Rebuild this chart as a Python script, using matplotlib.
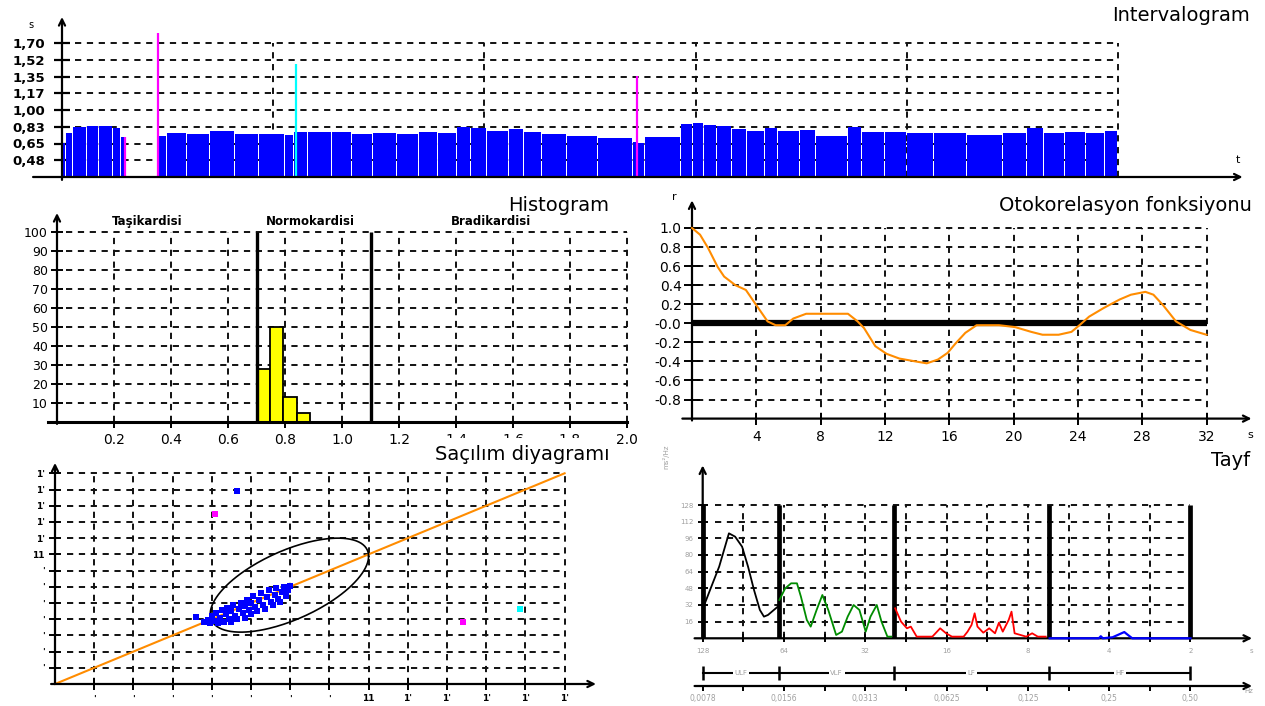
import numpy as np
import matplotlib.pyplot as plt
from matplotlib.patches import Rectangle
from matplotlib.ticker import NullFormatter

W, H = 1265, 706

# ---------------- data ----------------
# intervalogram: segment start (min) and RR interval (s)
seg_start = [0.000, 0.019, 0.052, 0.118, 0.175, 0.241, 0.279, 0.298,
             0.455, 0.497, 0.592, 0.701, 0.819, 0.933, 1.056, 1.098, 1.165, 1.278,
             1.373, 1.473, 1.586, 1.690, 1.780, 1.870, 1.937, 2.012, 2.116, 2.188,
             2.273, 2.391, 2.538, 2.704, 2.723, 2.760, 2.931, 2.988, 3.040, 3.101,
             3.172, 3.243, 3.329, 3.390, 3.494, 3.570, 3.722, 3.788, 3.897, 4.001,
             4.129, 4.285, 4.456, 4.569, 4.650, 4.749, 4.848, 4.938]
seg_rr = [0.66, 0.76, 0.82, 0.83, 0.83, 0.81, 0.72, np.nan,
          0.73, 0.76, 0.75, 0.78, 0.75, 0.75, 0.74, 0.77, 0.77, 0.77,
          0.75, 0.76, 0.75, 0.77, 0.76, 0.82, 0.81, 0.78, 0.80, 0.77,
          0.75, 0.73, 0.71, 0.67, 0.66, 0.72, 0.85, 0.86, 0.84, 0.83,
          0.80, 0.78, 0.81, 0.78, 0.79, 0.73, 0.82, 0.77, 0.77, 0.76,
          0.76, 0.74, 0.76, 0.81, 0.76, 0.77, 0.76, 0.78]
mark_t = [0.296, 0.455, 1.108, 2.723]
mark_rr = [0.72, 1.80, 1.48, 1.35]
mark_colors = ['#ff00ff', '#ff00ff', '#00ffff', '#ff00ff']
rr_ticks = [0.478, 0.652, 0.826, 1.0, 1.174, 1.348, 1.522, 1.696]
rr_labels = ['0,48', '0,65', '0,83', '1,00', '1,17', '1,35', '1,52', '1,70']
rr_base = 0.304

# histogram
hist_left = [0.70, 0.747, 0.794, 0.841]
hist_pct = [28, 50, 13, 5]
zone_bounds = [0.7, 1.1]
zone_names = ['Taşikardisi', 'Normokardisi', 'Bradikardisi']
zone_x = [0.316, 0.888, 1.523]

# autocorrelation
lag = [0, 0.5, 1.0, 1.6, 2.0, 2.7, 3.35, 4.0, 4.7, 5.2, 5.8, 6.3, 7.1, 8.1, 9.7,
       10.3, 10.7, 11.4, 12.1, 12.9, 13.9, 14.6, 15.3, 15.9, 16.4, 17.0, 17.7,
       19.1, 20.1, 21.1, 21.8, 22.8, 23.6, 24.1, 24.7, 25.6, 26.6, 27.3, 28.2,
       28.7, 29.3, 30.1, 31.0, 32.0]
acf = [1.0, 0.93, 0.79, 0.59, 0.49, 0.40, 0.35, 0.19, 0.02, -0.02, -0.02, 0.05,
       0.10, 0.10, 0.10, 0.02, -0.05, -0.24, -0.32, -0.37, -0.40, -0.42, -0.38,
       -0.31, -0.21, -0.10, -0.02, -0.02, -0.04, -0.09, -0.12, -0.12, -0.09,
       -0.02, 0.07, 0.16, 0.25, 0.30, 0.33, 0.30, 0.19, 0.02, -0.07, -0.12]
ac_ticks = [-0.8, -0.6, -0.4, -0.2, 0.0, 0.2, 0.4, 0.6, 0.8, 1.0]
ac_labels = ['-0.8', '-0.6', '-0.4', '-0.2', '-0.0', '0.2', '0.4', '0.6', '0.8', '1.0']

# scatter (grid units)
sc_x = [3.6, 3.8, 3.9, 3.95, 4.0, 4.05, 4.1, 4.15, 4.2, 4.25, 4.3, 4.35, 4.4, 4.45,
        4.5, 4.5, 4.55, 4.6, 4.65, 4.7, 4.75, 4.8, 4.85, 4.85, 4.9, 4.95, 5.0, 5.0,
        5.05, 5.1, 5.15, 5.2, 5.25, 5.3, 5.35, 5.4, 5.45, 5.5, 5.55, 5.6, 5.65, 5.7,
        5.75, 5.8, 5.85, 5.9, 5.95, 6.0]
sc_y = [4.15, 3.85, 3.95, 3.75, 4.2, 3.9, 4.4, 3.75, 4.05, 4.55, 3.85, 4.3, 4.7, 4.0,
        3.85, 4.5, 4.85, 4.2, 4.0, 4.65, 5.0, 4.35, 4.1, 4.8, 5.2, 4.55, 4.3, 5.0,
        5.4, 4.75, 4.5, 5.2, 5.6, 4.9, 4.65, 5.35, 5.8, 5.05, 4.85, 5.5, 5.9, 5.25,
        5.05, 5.65, 6.0, 5.45, 5.8, 6.05]
out_x = [4.64, 4.09, 10.4, 11.87]
out_y = [11.93, 10.49, 3.85, 4.61]
out_colors = ['#0000ff', '#ff00ff', '#ff00ff', '#00ffff']
sc_labels = ["'", "'", "'", "'", "'", "'", "'", "11", "1'", "1'", "1'", "1'", "1'"]
ell_center = (5.98, 6.1)
ell_extent = (2.02, 2.9)
ell_phase = 0.91

# spectrum (Hz, ms^2/Hz)
ulf_f = [0.0078, 0.00796, 0.00841, 0.00899, 0.00977, 0.0103, 0.01093, 0.0115,
         0.0121, 0.01272, 0.01317, 0.01363, 0.01433, 0.01482]
ulf_p = [32, 33.6, 49.6, 68.8, 100.8, 97.6, 88, 68.8, 46.4, 27.2, 20.8, 22.4, 27.2, 30.4]
vlf_f = [0.01502, 0.01579, 0.0166, 0.01745, 0.01805, 0.01898, 0.01962, 0.02063,
         0.02167, 0.02279, 0.02437, 0.02561, 0.02689, 0.02828, 0.02972, 0.03136,
         0.03266, 0.03446, 0.03588, 0.03773, 0.03898]
vlf_p = [36.8, 48, 52.8, 52.8, 40, 17.6, 11.2, 27.2, 41.6, 27.2, 3.2, 6.4, 20.8,
         32, 27.2, 6.4, 20.8, 32, 16, 1.6, 1.6]
lf_f = [0.04032, 0.04238, 0.04456, 0.04607, 0.04843, 0.05177, 0.05535, 0.05916,
        0.06223, 0.0654, 0.07228, 0.07473, 0.07731, 0.07938, 0.08132, 0.08543,
        0.08985, 0.09444, 0.09763, 0.1009, 0.1061, 0.1087, 0.1116, 0.1173, 0.1232,
        0.1296, 0.136, 0.1456]
lf_p = [28.8, 16, 9.6, 11.2, 1.6, 1.6, 1.6, 9.6, 4.8, 1.6, 1.6, 6.4, 12.8, 24,
        11.2, 5.4, 9.6, 4.8, 15, 6.4, 17.6, 25.6, 4.8, 3.2, 1.6, 4.8, 1.6, 1.6]
hf_f = [0.1505, 0.2288, 0.2327, 0.2367, 0.2573, 0.2705, 0.2843, 0.294, 0.3044, 0.4999]
hf_p = [0, 0, 2, 0, 1, 3.5, 6, 3, 0, 0]
band_edges = [1 / 128, 0.015, 0.04, 0.15, 0.5]
band_names = ['ULF', 'VLF', 'LF', 'HF']
period_labels = ['128', '64', '32', '16', '8', '4', '2']
hz_labels = ['0,0078', '0,0156', '0,0313', '0,0625', '0,125', '0,25', '0,50']

# ---------------- drawing ----------------
plt.rcParams['font.family'] = 'DejaVu Sans'
fig = plt.figure(figsize=(W / 100, H / 100), dpi=100)

DASH = (0, (3.2, 2.9))
GRID = dict(colors='#111111', linewidths=1.4, linestyles=DASH, zorder=1, clip_on=False)
GRAY = '#a0a0a0'


def panel(x0, x1, y0, y1):
    ax = fig.add_axes([x0 / W, 1 - y1 / H, (x1 - x0) / W, (y1 - y0) / H])
    for s in ax.spines.values():
        s.set_visible(False)
    ax.patch.set_visible(False)
    return ax


def arrow(ax, start, end, lw=1.6):
    ax.annotate('', xy=end, xytext=start, annotation_clip=False,
                arrowprops=dict(arrowstyle='->', lw=lw, color='black',
                                shrinkA=0, shrinkB=0, mutation_scale=11))


def ftext(x, y, s, **kw):
    return fig.text(x / W, 1 - y / H, s, **kw)


# Intervalogram
ax1 = panel(62, 1118, 43, 177)
ax1.set_xlim(0, 5)
ax1.set_ylim(rr_base, 1.696)
ax1.hlines(rr_ticks, 0.06, 5, **GRID)
ax1.vlines([1, 2, 3, 4, 5], rr_base, 1.696, **GRID)
start = np.array(seg_start)
end = np.append(start[1:], 5.0)
rr = np.array(seg_rr)
ok = ~np.isnan(rr)
ax1.bar(start[ok], rr[ok] - rr_base, width=(end - start)[ok] - 0.0066,
        bottom=rr_base, align='edge', color='#0000ff', lw=0, zorder=2)
ax1.vlines(mark_t, rr_base, mark_rr, colors=mark_colors, lw=1.6, zorder=3, clip_on=False)
arrow(ax1, (-0.137, rr_base), (5.59, rr_base))
arrow(ax1, (0, rr_base - 0.03), (0, 1.966))
ax1.set_xticks([])
ax1.set_yticks(rr_ticks, rr_labels)
ax1.tick_params(axis='y', direction='inout', length=12, width=1.6, pad=6, labelsize=9.5)
for lab in ax1.get_yticklabels():
    lab.set_fontweight('bold')
ftext(31, 25, 's', fontsize=7, ha='center', va='center')
ftext(1238, 160, 't', fontsize=8, ha='center', va='center')
ftext(1250, 20.7, 'Intervalogram', ha='right', va='baseline', fontsize=14)

# Histogram
ax2 = panel(57, 627, 232, 422)
ax2.set_xlim(0, 2)
ax2.set_ylim(0, 100)
ax2.hlines(range(10, 101, 10), 0.03, 2.0, **GRID)
ax2.vlines(np.arange(0.2, 2.01, 0.2), 0, 100, **GRID)
ax2.bar(hist_left, hist_pct, width=0.047, align='edge', color='#ffff00',
        edgecolor='black', lw=1.3, zorder=3)
ax2.vlines(zone_bounds, 0, 100, colors='black', lw=2.4, zorder=4, clip_on=False)
ax2.plot([-0.032, 2.0], [0, 0], color='black', lw=2.2, clip_on=False, zorder=5)
arrow(ax2, (0, -1), (0, 110))
for x, name in zip(zone_x, zone_names):
    ax2.text(x, 105.3, name, ha='center', va='center', fontsize=8.5, weight='bold')
xt = np.arange(0.2, 2.01, 0.2)
ax2.set_xticks(xt, [f'{v:.1f}' for v in xt])
ax2.set_yticks(range(10, 101, 10))
ax2.tick_params(axis='x', direction='out', length=4, width=1.4, pad=4, labelsize=10)
ax2.tick_params(axis='y', direction='inout', length=9, width=1.4, pad=2, labelsize=9)
ftext(609, 211, 'Histogram', ha='right', va='baseline', fontsize=14)

# Autocorrelation
ax3 = panel(692, 1206.5, 228, 418.6)
ax3.set_xlim(0, 32)
ax3.set_ylim(-1, 1)
ax3.hlines([v for v in ac_ticks if v != 0], 0.3, 32, **GRID)
ax3.vlines(range(4, 33, 4), -1, 1, **GRID)
ax3.hlines(0, 0, 32, colors='black', lw=4.5, zorder=3)
ax3.plot(lag, acf, color='#ff8c00', lw=1.5, zorder=4, clip_on=False)
arrow(ax3, (-0.6, -1), (34.8, -1))
arrow(ax3, (0, -1.02), (0, 1.29))
ax3.set_xticks(range(4, 33, 4))
ax3.set_yticks(ac_ticks, ac_labels)
ax3.tick_params(axis='x', direction='inout', length=8, width=1.4, pad=4, labelsize=10)
ax3.tick_params(axis='y', direction='inout', length=11, width=1.4, pad=2, labelsize=10)
ftext(674, 197, 'r', fontsize=8, ha='center', va='center')
ftext(1250, 435, 's', fontsize=8, ha='center', va='center')
ftext(1252, 211, 'Otokorelasyon fonksiyonu', ha='right', va='baseline', fontsize=14)

# Scatter
ax4 = panel(55, 564.6, 473.3, 684)
ax4.set_xlim(0, 13)
ax4.set_ylim(0, 13)
ax4.hlines(range(1, 14), 0.3, 13, **GRID)
ax4.vlines(range(1, 14), 0, 13, **GRID)
ax4.plot([0, 13], [0, 13], color='#ff8c00', lw=1.5, zorder=3, clip_on=False)
t = np.linspace(0, 2 * np.pi, 200)
ax4.plot(ell_center[0] + ell_extent[0] * np.cos(t),
         ell_center[1] + ell_extent[1] * np.cos(t - ell_phase),
         color='black', lw=1.2, zorder=4)
ax4.plot(sc_x, sc_y, ls='none', marker='s', ms=4.4, mew=0, color='#0000ff', zorder=5)
ax4.scatter(out_x, out_y, marker='s', s=19, c=out_colors, lw=0, zorder=5)
arrow(ax4, (-0.1, 0), (13.8, 0))
arrow(ax4, (0, 0), (0, 13.64))
ax4.set_xticks(range(1, 14), sc_labels)
ax4.set_yticks(range(1, 14), sc_labels)
ax4.tick_params(axis='both', direction='inout', length=9, width=1.4, pad=3,
                labelsize=6.5)
for lab in ax4.get_xticklabels() + ax4.get_yticklabels():
    lab.set_fontweight('bold')

# white box of the scatter title over the histogram labels
fig.add_artist(Rectangle((440 / W, 1 - 470 / H), (612 - 440) / W, (470 - 437.5) / H,
                         transform=fig.transFigure, fc='white', ec='none', zorder=10))
ftext(610, 460, 'Saçılım diyagramı', ha='right', va='baseline', fontsize=14, zorder=11)

# Spectrum
ax5 = panel(702.7, 1190.5, 505, 638.3)
ax5.set_xscale('log', base=2)
ax5.set_xlim(1 / 128, 0.5)
ax5.set_ylim(0, 128)
half = 2.0 ** np.arange(-6.5, -1.4, 0.5)
ax5.hlines(range(16, 129, 16), 2 ** -6.85, 0.5, **GRID)
ax5.vlines(half, 0, 128, **GRID)
ax5.vlines(band_edges, 0, 128, colors='black', lw=3.4, zorder=4, clip_on=False)
ax5.plot(ulf_f, ulf_p, color='black', lw=1.3, zorder=5)
ax5.plot(vlf_f, vlf_p, color='#008c00', lw=1.3, zorder=5)
ax5.plot(lf_f, lf_p, color='#ff0000', lw=1.3, zorder=5)
ax5.plot(hf_f, hf_p, color='#0000ff', lw=1.6, zorder=6, clip_on=False)
arrow(ax5, (2 ** -7.1, 0), (0.845, 0))
arrow(ax5, (1 / 128, 0), (1 / 128, 166))
major = 2.0 ** np.arange(-7, -0.5, 1)
ax5.set_xticks(major, period_labels)
ax5.set_xticks(2.0 ** np.arange(-6.5, -1, 1), minor=True)
ax5.xaxis.set_minor_formatter(NullFormatter())
ax5.set_yticks(range(16, 129, 16))
ax5.tick_params(axis='x', which='both', direction='inout', length=6, width=1.4,
                pad=4, labelsize=5, labelcolor=GRAY)
ax5.tick_params(axis='y', direction='inout', length=7, width=1.4, pad=3,
                labelsize=5, labelcolor=GRAY)
ax5.text(0.84, -12, 's', fontsize=5, color=GRAY, ha='center', va='center')

# band bar and Hz axis below the spectrum
ax5.plot([1 / 128, 0.5], [-33.6, -33.6], color='black', lw=1.5, clip_on=False)
ax5.plot(band_edges, [-33.6] * len(band_edges), ls='none', marker='|', ms=10,
         mew=1.8, color='black', clip_on=False)
for lo, hi, name in zip(band_edges[:-1], band_edges[1:], band_names):
    ax5.text(np.sqrt(lo * hi), -33.6, name, fontsize=5, color=GRAY, ha='center',
             va='center', bbox=dict(fc='white', ec='none', pad=1.2), zorder=6)
arrow(ax5, (2 ** -7.1, -45.8), (0.845, -45.8))
hz_half = 2.0 ** np.arange(-7, -0.9, 0.5)
ax5.vlines(hz_half, -50.5, -45.8, colors='black', lw=1.4, clip_on=False)
for f, lab in zip(major, hz_labels):
    ax5.text(f, -57.4, lab, fontsize=5.5, color=GRAY, ha='center', va='center')
ax5.text(0.82, -51, 'Hz', fontsize=5, color=GRAY, ha='center', va='center')
ftext(666, 457, 'ms²/Hz', fontsize=5, color=GRAY, rotation=90, ha='center', va='center')
ftext(1250, 466, 'Tayf', ha='right', va='baseline', fontsize=14)

fig.savefig('out.png', dpi=100)
